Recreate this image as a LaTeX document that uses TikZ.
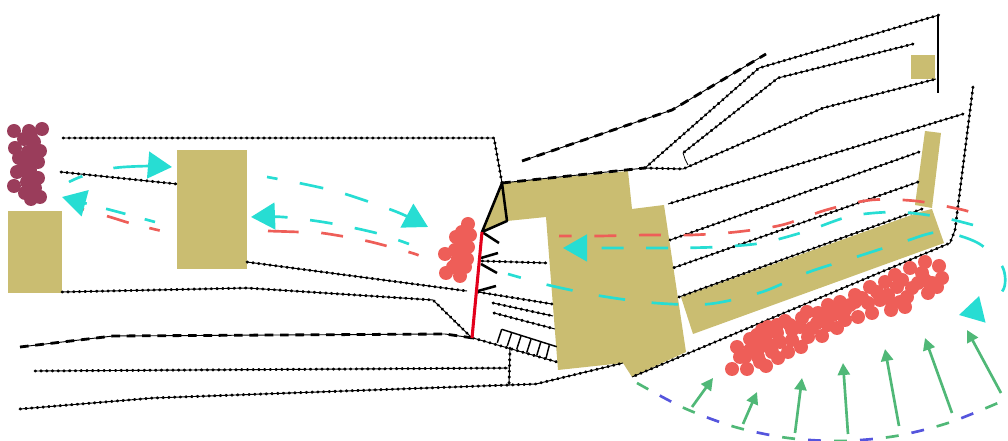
\documentclass[tikz,border=0pt]{standalone}
\usepackage{xcolor}
\usepackage{tikz}
\usetikzlibrary{arrows.meta}
\definecolor{sandtan}{RGB}{202,189,113}
\definecolor{flowcyan}{RGB}{39,221,211}
\definecolor{coralred}{RGB}{238,94,88}
\definecolor{plumred}{RGB}{154,61,91}
\definecolor{wallred}{RGB}{227,0,27}
\definecolor{arcgreen}{RGB}{80,184,119}
\definecolor{arcblue}{RGB}{85,85,221}

\begin{document}
\begin{tikzpicture}[
  x=0.75pt, y=-0.75pt, line join=round,
  sand/.style={fill=sandtan},
  fence/.style={black, line width=0.7pt, postaction={draw, line width=2.2pt, line cap=round, dash pattern=on 0.5pt off 3.8pt}},
  fenceheavy/.style={black, line width=0.7pt, postaction={draw, line width=2.1pt, dash pattern=on 6.5pt off 5pt}},
  wall/.style={black, line width=1.9pt},
  flow/.style={flowcyan, line width=2pt},
  bighead/.style={-{Triangle[length=18pt,width=20pt]}},
  redflow/.style={coralred, line width=2pt},
  arcdash/.style={line width=2pt},
  inflow/.style={arcgreen, line width=2pt, -{Triangle[length=9pt,width=9pt]}},
  crowd/.style={fill=coralred},
  plumcrowd/.style={fill=plumred}
]
\useasboundingbox (0,0) rectangle (1008,441);

\fill[sand] (8,211) rectangle (62,293);
\fill[sand] (177,150) rectangle (247,269);
\fill[sand] (911,55) rectangle (935,79);
\fill[sand] (502,183) -- (628,171) -- (632,209) -- (664,205) -- (686,352) -- (632,377) -- (623,363) -- (558,370) -- (546,217) -- (507,221) -- (482,232) -- cycle;
\fill[sand] (681,297) -- (920,212) -- (932,209) -- (944,243) -- (693,334) -- cycle;
\fill[sand] (925,131) -- (941,133) -- (932,208) -- (915,205) -- cycle;

\draw[fence] (63,138) -- (494,138) -- (502,183);
\draw[fence] (61,172) -- (177,184);
\draw[fence] (247,262) -- (467,291);
\draw[fence] (62,292) -- (247,288) -- (433,300) -- (472,338);
\draw[fence] (473,338) -- (557,362);
\draw[fence] (35,371) -- (509,368);
\draw[fence] (20,409) -- (153,398) -- (509,385) -- (536,384) -- (623,363);
\draw[fence] (510,348) -- (509,386);
\draw[fence] (482,261) -- (547,263);
\draw[fence] (478,292) -- (552,304);
\draw[fence] (493,303) -- (553,316);
\draw[fence] (494,313) -- (555,329);
\draw[fence] (645,168) -- (759,68) -- (939,15);
\draw[fence] (913,44) -- (778,78) -- (683,153);
\draw[black, line width=0.6pt] (683,153) -- (685,159) -- (688,165);
\draw[fence] (645,168) -- (683,169) -- (823,108) -- (936,79);
\draw[fence] (963,114) -- (668,204);
\draw[fence] (919,152) -- (670,240);
\draw[fence] (918,182) -- (673,268);
\draw[fence] (922,209) -- (679,297);
\draw[fence] (973,87) -- (955,230) -- (950,243) -- (632,377);
\draw[fenceheavy] (20,347) -- (113,336) -- (445,334) -- (473,338);
\draw[fenceheavy] (522,161) -- (672,110) -- (766,54);
\draw[fenceheavy] (502,183) -- (645,168);

\draw[black, line width=1.1pt] (501.7,329.3) -- (556.7,346.7);
\foreach \ax/\ay/\bx/\by in {501.7/329.3/497.3/342.7, 511.7/332.7/507.3/346, 521/336/516.7/349.3, 531/339.3/526.7/352.7, 540.7/342.3/536.7/355.7, 549.3/345.3/546/358.3}
  \draw[black, line width=1.1pt] (\ax,\ay) -- (\bx,\by);

\draw[wall, line width=2.2pt] (938,15) -- (938,93);
\draw[wall] (502,183) -- (482,232) -- (507,221) -- cycle;
\draw[wall] (482,232) -- (499,243);
\draw[wall] (481,258) -- (498,253);
\draw[wall] (481,264) -- (497,273);
\draw[wall] (478,291) -- (496,286);
\draw[wallred, line width=2.3pt] (482,232) -- (472,338);

\foreach \cx/\cy in {14/131, 29/131, 42/129, 24/139, 34/142, 15/148, 28/152, 40/151, 19/158, 38/162, 24/160, 17/172, 30/170, 38/178, 14/186, 27/182, 25/193, 35/188, 40/197, 31/199, 30/193, 30/162, 33/178, 28/174, 34/152, 31/137, 24/166, 32/186}
  \fill[plumcrowd] (\cx,\cy) circle (7);

\foreach \cx/\cy in {468/224, 470/235, 456/237, 468/247, 455/250, 445/254, 467/259, 458/258, 465/267, 453/267, 446/273, 460/276, 462/242, 460/252, 456/264, 462/232}
  \fill[crowd] (\cx,\cy) circle (7);

\foreach \cx/\cy in {732/369, 747/369, 766/366, 740/357, 737/347, 778/358, 788/352, 801/347, 822/336, 808/337, 785/321, 768/327, 750/339, 757/335, 807/312, 802/318, 792/330, 777/333, 760/347, 750/350, 758/357, 770/345, 745/357, 828/305, 818/313, 837/328, 833/315, 817/323, 925/262, 939/266, 910/268, 942/278, 895/275, 885/282, 928/293, 932/283, 918/283, 922/273, 905/307, 891/310, 872/313, 858/317, 907/297, 897/287, 870/287, 855/295, 840/302, 877/292, 862/298, 845/310, 900/302, 888/295, 937/287, 765/338, 780/342, 772/352, 792/340, 812/328, 828/325, 800/327, 828/315, 850/305, 868/303, 880/300, 892/303, 902/280, 912/288, 925/280, 855/302, 760/362, 762/330, 777/325, 790/325, 838/306, 845/320}
  \fill[crowd] (\cx,\cy) circle (7);

\draw[redflow, dash pattern=on 16.5pt off 17pt, dash phase=7pt] plot[smooth] coordinates {(559,236) (599,236) (646,235) (691,235) (736,232) (782,225) (826,210) (871,200) (916,201) (959,209) (970,212)};
\draw[redflow, dash pattern=on 23pt off 17pt on 16.5pt off 17pt on 16.5pt off 17pt on 8pt off 30pt] plot[smooth] coordinates {(268,231) (299,232) (322,233) (367,241) (412,253) (422,257)};
\draw[redflow, dash pattern=on 1.5pt off 18pt on 17pt off 16pt on 8pt off 20pt] plot[smooth] coordinates {(82,209) (110,217) (133,224) (166,232)};

\draw[flow, bighead, dash pattern=on 11pt off 24pt on 80pt] plot[smooth] coordinates {(69,182) (83,176) (114,168) (150,166) (172,167)};
\draw[flow, bighead, dash pattern=on 15pt off 15pt, dash phase=7pt] plot[smooth] coordinates {(155,222) (122,213) (88,204) (62,197)};
\draw[flow, bighead, dash pattern=on 18pt off 17pt, dash phase=10pt] plot[smooth] coordinates {(267,177) (299,183) (342,193) (397,212) (428,227)};
\draw[flow, bighead, dash pattern=on 17pt off 17pt, dash phase=8.5pt] plot[smooth] coordinates {(409,244) (376,233) (329,223) (283,217) (251,217)};
\draw[flow, bighead, dash pattern=on 16.5pt off 16.8pt] plot[smooth] coordinates {(973,225) (940,217) (897,212) (851,216) (807,231) (762,243) (717,247) (672,248) (626,248) (563,248)};
\draw[flow, bighead, dash pattern=on 20pt off 20pt, dash phase=10pt] plot[smooth] coordinates {(508,274) (548,285) (601,296) (655,303) (709,304) (762,292) (809,272) (856,257) (903,242) (940,232) (978,243) (1002,266) (1004,288) (987,306) (959,315)};

\draw[arcdash, arcgreen, dash pattern=on 9.7pt off 29.3pt] plot[smooth] coordinates {(637,383) (684,408) (735,427) (788,438) (842,441) (896,436) (948,423) (998,403) (1008,398)};
\draw[arcdash, arcblue, dash pattern=on 9.7pt off 29.3pt, dash phase=19.5pt] plot[smooth] coordinates {(637,383) (684,408) (735,427) (788,438) (842,441) (896,436) (948,423) (998,403) (1008,398)};

\foreach \ax/\ay/\bx/\by in {692/407/713/378, 743/424/757/392, 795/433/802/378, 848/434/843/363, 899/426/885/349, 952/413/925/338, 1001/393/967/330}
  \draw[inflow] (\ax,\ay) -- (\bx,\by);
\end{tikzpicture}
\end{document}
